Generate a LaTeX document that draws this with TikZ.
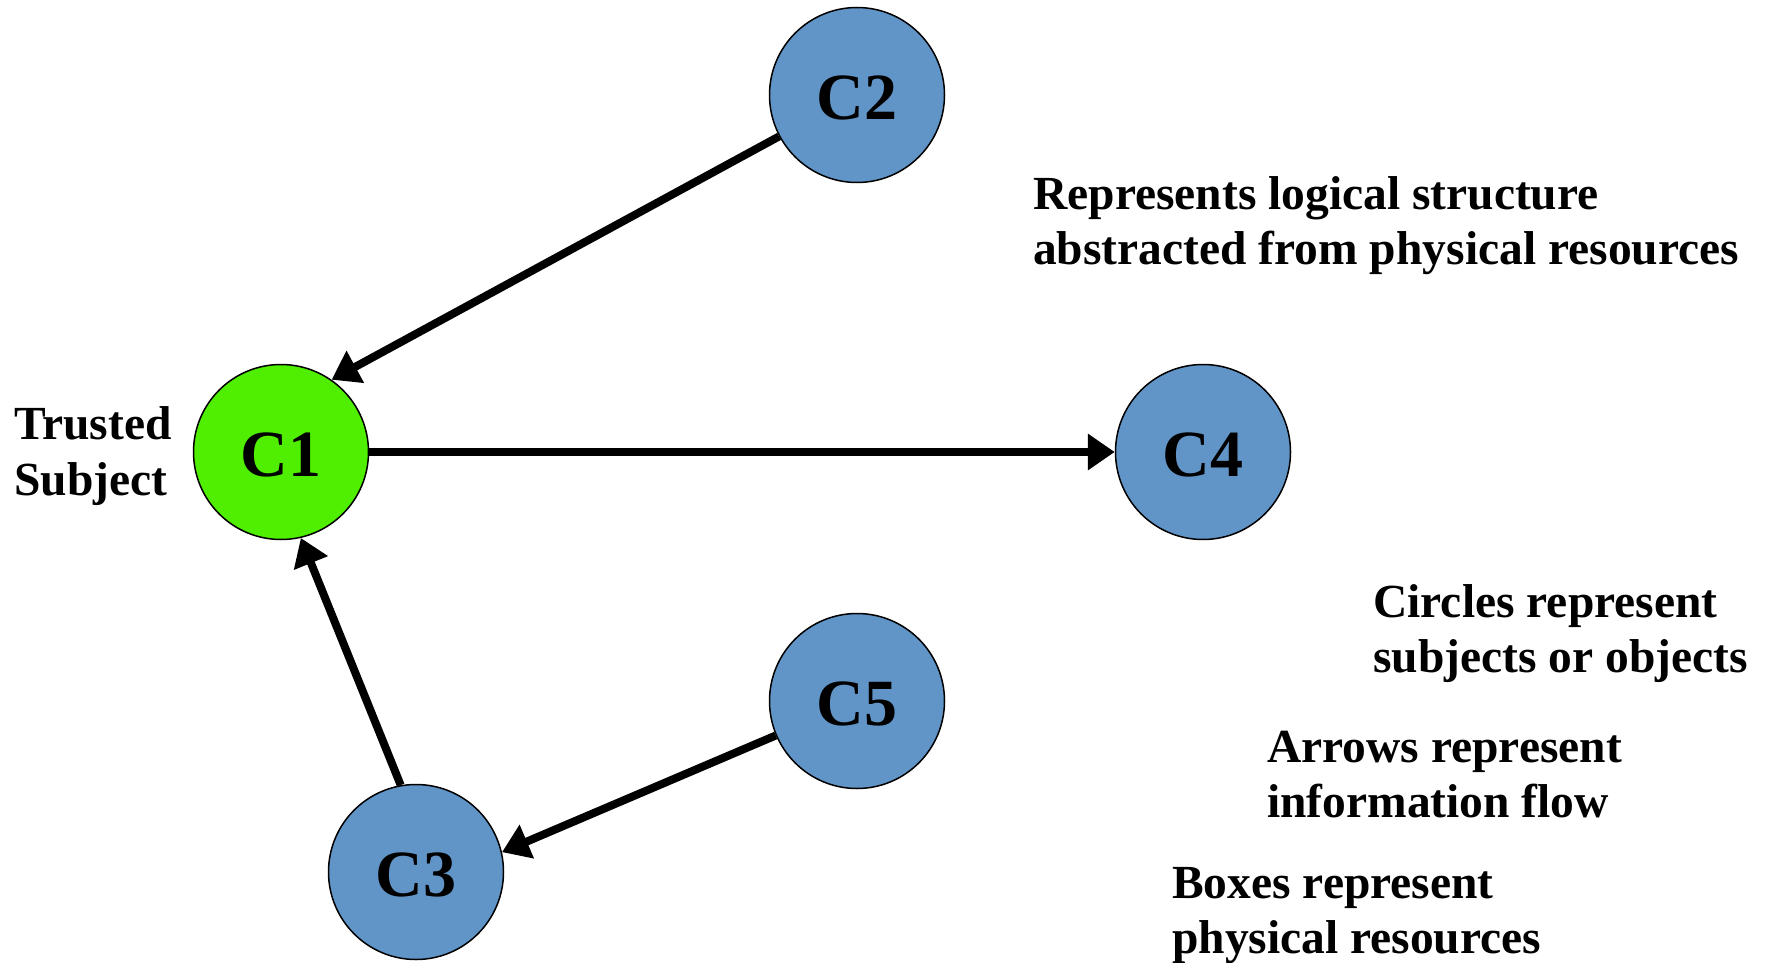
\documentclass[tikz,border=0pt]{standalone}
\usepackage{fontspec}
\setmainfont{Liberation Serif}
\usetikzlibrary{arrows.meta}

\definecolor{nodeblue}{RGB}{97,149,200}
\definecolor{trustgreen}{RGB}{80,238,0}

\tikzset{
  compartment/.style={circle, draw=black, line width=1.5pt, fill=nodeblue,
    minimum size=175pt, inner sep=0pt,
    font=\fontsize{66}{66}\selectfont\bfseries,
    text height=49pt, text depth=0pt},
  trusted/.style={compartment, fill=trustgreen},
  flow/.style={line width=8pt, -{Triangle[length=27pt,width=35pt]}},
  note/.style={anchor=base west, inner sep=0pt,
    font=\fontsize{47.5}{55}\selectfont\bfseries}
}

\begin{document}
\begin{tikzpicture}[x=1pt, y=-1pt]
  \useasboundingbox (0,0) rectangle (1765,963);

  % compartments
  \node[trusted]     (c1) at (281,452) {C1};
  \node[compartment] (c2) at (857,95)  {C2};
  \node[compartment] (c3) at (416,872) {C3};
  \node[compartment] (c4) at (1203,452) {C4};
  \node[compartment] (c5) at (857,701) {C5};

  % information flow
  \draw[flow] (c2.208.7) -- (c1.55);
  \draw[flow] (c1) -- (c4);
  \draw[flow] (c3.100.3) -- (c1.-77.2);
  \draw[flow] (c5.203.5) -- (c3.13);

  % labels and legend
  \node[note] (ts1) at (14,439) {Trusted};
  \node[note] (ts2) at (14,495) {Subject};

  \node[note] (r1) at (1033,209) {Represents logical structure};
  \node[note] (r2) at (1033,264) {abstracted from physical resources};

  \node[note] (l1) at (1373,617) {Circles represent};
  \node[note] (l2) at (1373,672) {subjects or objects};

  \node[note] (a1) at (1267,762) {Arrows represent};
  \node[note] (a2) at (1267,817) {information flow};

  \node[note] (b1) at (1172,898) {Boxes represent};
  \node[note] (b2) at (1172,953) {physical resources};
\end{tikzpicture}
\end{document}
